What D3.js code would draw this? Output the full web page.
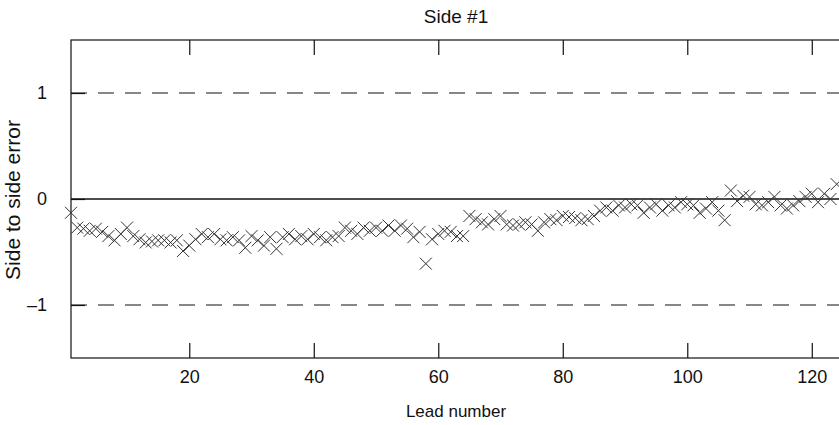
<!DOCTYPE html>
<html><head><meta charset="utf-8">
<script src="https://cdn.jsdelivr.net/npm/d3@7"></script>
<style>body{margin:0;background:#fff}svg{display:block}text{font-family:"Liberation Sans",Arial,Helvetica,sans-serif;fill:#111}</style>
</head><body><svg id="c" width="839" height="425"></svg>
<script>
const leads = d3.range(1, 125);
const errors = [
 -0.13,-0.27,-0.28,-0.30,-0.28,-0.31,-0.35,-0.39,-0.33,-0.27,
 -0.35,-0.38,-0.41,-0.40,-0.39,-0.39,-0.41,-0.39,-0.49,-0.44,
 -0.38,-0.33,-0.36,-0.33,-0.38,-0.39,-0.36,-0.39,-0.46,-0.35,
 -0.39,-0.44,-0.36,-0.47,-0.36,-0.33,-0.38,-0.35,-0.38,-0.33,
 -0.36,-0.39,-0.36,-0.35,-0.27,-0.30,-0.33,-0.27,-0.30,-0.27,
 -0.30,-0.25,-0.30,-0.25,-0.28,-0.36,-0.31,-0.61,-0.38,-0.33,
 -0.30,-0.31,-0.35,-0.35,-0.16,-0.19,-0.22,-0.24,-0.19,-0.16,
 -0.24,-0.25,-0.24,-0.22,-0.24,-0.30,-0.22,-0.19,-0.20,-0.16,
 -0.17,-0.18,-0.20,-0.19,-0.16,-0.11,-0.08,-0.11,-0.06,-0.08,
 -0.05,-0.06,-0.13,-0.08,-0.05,-0.11,-0.06,-0.08,-0.03,-0.05,
 -0.06,-0.13,-0.09,-0.03,-0.11,-0.20, 0.08,-0.02, 0.03, 0.02,
 -0.05,-0.06,-0.03, 0.02,-0.06,-0.09,-0.06,-0.02, 0.02, 0.05,
 -0.03, 0.05, 0.00, 0.14
];
const xTicks = [20, 40, 60, 80, 100, 120];
const yTicks = [-1, 0, 1];
const limitLines = [-1, 1];
const title = "Side #1", xLabel = "Lead number", yLabel = "Side to side error";

const svg = d3.select("#c");
const L = 71, T = 40, B = 358;
const x = d3.scaleLinear().domain([1, 128]).range([L, L + 127 * 6.225]);
const y = d3.scaleLinear().domain([-1.5, 1.5]).range([B, T]);
const R = x(128);

svg.selectAll("line.lim").data(limitLines).join("line").attr("class","lim")
  .attr("x1", L).attr("x2", R).attr("y1", d => y(d)).attr("y2", d => y(d))
  .attr("stroke", "#111").attr("stroke-width", 1.2).attr("stroke-dasharray", "16,11");
svg.append("line").attr("x1", L).attr("x2", R).attr("y1", y(0)).attr("y2", y(0))
  .attr("stroke", "#111").attr("stroke-width", 1.6);

svg.append("rect").attr("x", L).attr("y", T).attr("width", R - L).attr("height", B - T)
  .attr("fill", "none").attr("stroke", "#111").attr("stroke-width", 1.2);

const fmt = d => d < 0 ? "\u2013" + Math.abs(d) : String(d);
const gb = svg.append("g").attr("transform", `translate(0,${B})`)
  .call(d3.axisBottom(x).tickValues(xTicks).tickSizeInner(-15).tickSizeOuter(0).tickPadding(12).tickFormat(fmt));
const gt = svg.append("g").attr("transform", `translate(0,${T})`)
  .call(d3.axisTop(x).tickValues(xTicks).tickSizeInner(-15).tickSizeOuter(0).tickFormat(""));
const gl = svg.append("g").attr("transform", `translate(${L},0)`)
  .call(d3.axisLeft(y).tickValues(yTicks).tickSizeInner(-14).tickSizeOuter(0).tickPadding(24).tickFormat(fmt));
[gb, gt, gl].forEach(g => {
  g.select(".domain").remove();
  g.selectAll(".tick line").attr("stroke", "#111").attr("stroke-width", 1.2);
  g.selectAll(".tick text").attr("font-size", 18).attr("fill", "#111")
    .style("font-family", '"Liberation Sans", Arial, sans-serif');
});

const s = 6;
const pts = svg.append("g").attr("stroke", "#333").attr("stroke-width", 1).attr("fill", "none");
leads.forEach((ld, i) => {
  const cx = x(ld), cy = y(errors[i]);
  pts.append("path").attr("d", `M${cx - s},${cy - s}L${cx + s},${cy + s}M${cx - s},${cy + s}L${cx + s},${cy - s}`);
});

svg.append("text").attr("x", 456).attr("y", 23).attr("text-anchor", "middle").attr("font-size", 19).text(title);
svg.append("text").attr("x", 456).attr("y", 417).attr("text-anchor", "middle").attr("font-size", 17).text(xLabel);
svg.append("text").attr("transform", "translate(20,200) rotate(-90)").attr("text-anchor", "middle").attr("font-size", 21).text(yLabel);
</script></body></html>
